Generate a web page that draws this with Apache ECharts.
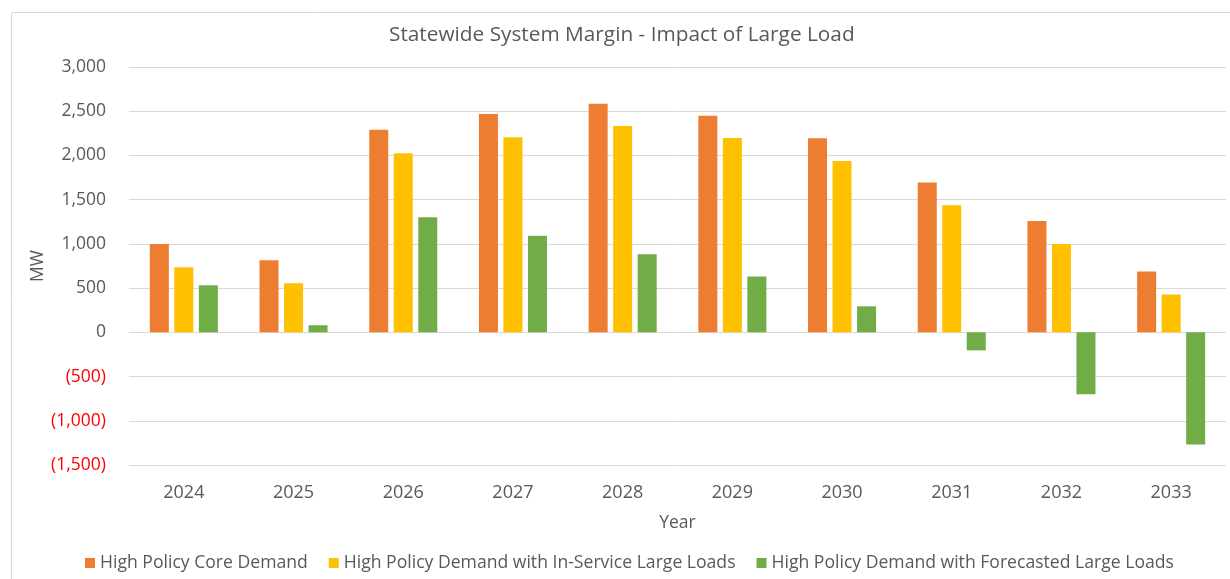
<!DOCTYPE html>
<html>
<head>
<meta charset="utf-8">
<script src="https://cdn.jsdelivr.net/npm/echarts@6/dist/echarts.min.js"></script>
<style>
    html, body { margin: 0; padding: 0; background: #fff; }
    #chart { width: 1230px; height: 579px; }
</style>
</head>
<body>
<div id="chart"></div>
<script>
const years = ['2024', '2025', '2026', '2027', '2028', '2029', '2030', '2031', '2032', '2033'];
const coreDemand = [1000, 815, 2290, 2470, 2585, 2448, 2195, 1695, 1260, 688];
const inServiceLoads = [736, 555, 2025, 2205, 2333, 2197, 1937, 1438, 1000, 427];
const forecastedLoads = [532, 80, 1300, 1093, 883, 632, 294, -204, -700, -1268];

const seriesNames = [
    'High Policy Core Demand',
    'High Policy Demand with In-Service Large Loads',
    'High Policy Demand with Forecasted Large Loads'
];
const colors = ['#ED7D31', '#FFC000', '#70AD47'];
const font = 'Open Sans';
const grey = '#595959';

function fmt(v) {
    const s = Math.abs(v).toString().replace(/\B(?=(\d{3})+(?!\d))/g, ',');
    return v < 0 ? '{neg|(' + s + ')}' : s;
}

function bar(name, data, color) {
    return {
        name: name,
        type: 'bar',
        data: data,
        barWidth: 19,
        barGap: '29%',
        itemStyle: { color: color }
    };
}

const chart = echarts.init(document.getElementById('chart'));
chart.setOption({
    animation: false,
    textStyle: { fontFamily: font },
    graphic: [{
        type: 'rect',
        left: 9, top: 10,
        shape: { width: 1240, height: 600 },
        style: { fill: 'none', stroke: '#d9d9d9', lineWidth: 1 }
    }],
    title: {
        text: 'Statewide System Margin - Impact of Large Load',
        left: 389,
        top: 25,
        padding: 0,
        textStyle: { fontFamily: font, fontSize: 20.8, fontWeight: 'normal', color: grey }
    },
    legend: {
        data: seriesNames,
        bottom: 2,
        left: 80,
        itemWidth: 10,
        itemHeight: 10,
        itemGap: 21,
        icon: 'rect',
        textStyle: { fontFamily: font, fontSize: 17.6, color: grey }
    },
    grid: { left: 129, right: 4, top: 67, bottom: 114 },
    xAxis: {
        type: 'category',
        data: years,
        name: 'Year',
        nameLocation: 'middle',
        nameGap: 49,
        nameMoveOverlap: false,
        nameTextStyle: { fontFamily: font, fontSize: 17.5, color: grey },
        axisLine: { show: false },
        axisTick: { show: false },
        axisLabel: { fontFamily: font, fontSize: 18, color: grey, margin: 19 }
    },
    yAxis: {
        type: 'value',
        min: -1500,
        max: 3000,
        interval: 500,
        name: 'MW',
        nameLocation: 'middle',
        nameGap: 82,
        nameMoveOverlap: false,
        nameTextStyle: { fontFamily: font, fontSize: 17.5, color: grey },
        axisLine: { show: false },
        axisTick: { show: false },
        splitLine: { lineStyle: { color: '#d9d9d9', width: 1 } },
        axisLabel: {
            fontFamily: font,
            fontSize: 17.5,
            color: grey,
            margin: 23,
            formatter: fmt,
            rich: { neg: { color: '#ff0000', fontFamily: font, fontSize: 17.5 } }
        }
    },
    series: [
        bar(seriesNames[0], coreDemand, colors[0]),
        bar(seriesNames[1], inServiceLoads, colors[1]),
        bar(seriesNames[2], forecastedLoads, colors[2])
    ]
});
</script>
</body>
</html>
